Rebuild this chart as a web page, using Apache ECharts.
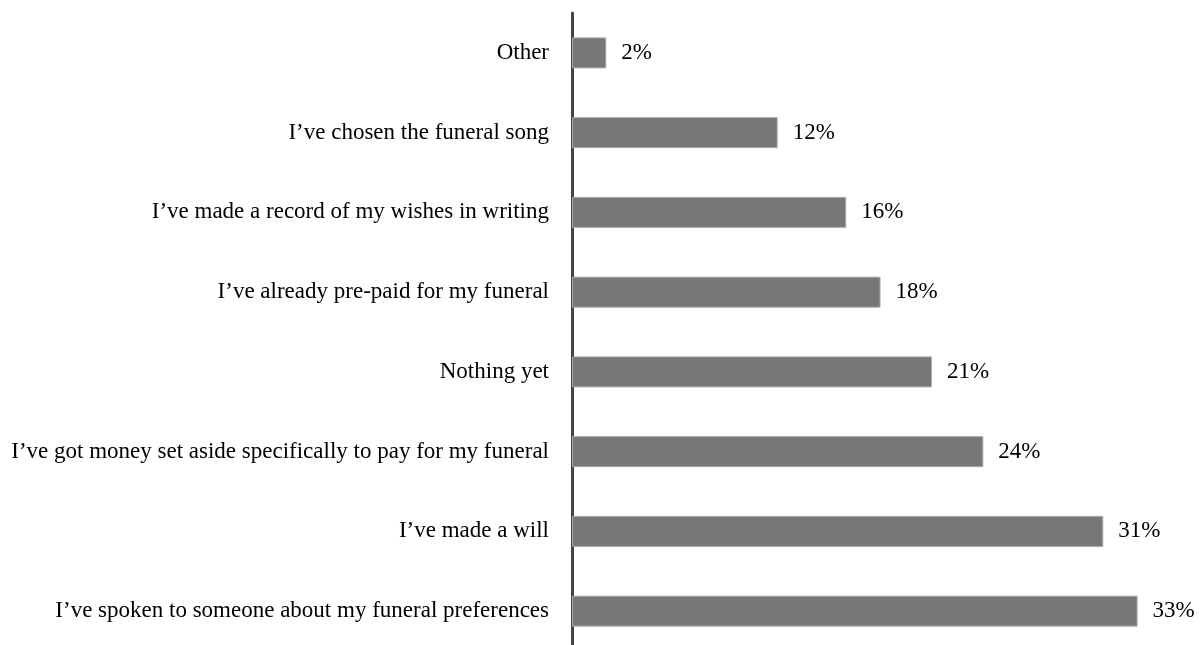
<!DOCTYPE html>
<html lang="en">
<head>
    <meta charset="UTF-8">
    <title>Funeral preparations</title>
    <script src="https://cdn.jsdelivr.net/npm/echarts@6/dist/echarts.min.js"></script>
    <style>
        html, body { margin: 0; padding: 0; background: #fff; overflow: hidden; }
        /* a little taller than the window: the axis runs off the bottom edge */
        #main { width: 1202px; height: 651px; }
    </style>
</head>
<body>
<div id="main"></div>
<script>
    // categories top to bottom
    const categories = [
        'Other',
        'I\u2019ve chosen the funeral song',
        'I\u2019ve made a record of my wishes in writing',
        'I\u2019ve already pre-paid for my funeral',
        'Nothing yet',
        'I\u2019ve got money set aside specifically to pay for my funeral',
        'I\u2019ve made a will',
        'I\u2019ve spoken to someone about my funeral preferences'
    ];
    const shares = [2, 12, 16, 18, 21, 24, 31, 33];

    const chart = echarts.init(document.getElementById('main'));
    const font = '"Liberation Serif", "Times New Roman", serif';

    chart.setOption({
        animation: false,
        grid: { left: 572, right: 13, top: 13, bottom: 0, containLabel: false },
        xAxis: {
            type: 'value',
            min: 0,
            max: 36,
            show: false
        },
        yAxis: {
            type: 'category',
            inverse: true,
            data: categories,
            axisLine: { show: true, lineStyle: { color: '#444', width: 3 } },
            axisTick: { show: false },
            splitLine: { show: false },
            axisLabel: {
                margin: 23,
                color: '#000',
                fontFamily: font,
                fontSize: 23
            }
        },
        series: [{
            type: 'bar',
            data: shares,
            barWidth: 31,
            itemStyle: { color: '#777', borderColor: '#a8a8a8', borderWidth: 1 },
            label: {
                show: true,
                position: 'right',
                distance: 15,
                formatter: '{c}%',
                color: '#000',
                fontFamily: font,
                fontSize: 23
            }
        }]
    });
</script>
</body>
</html>
